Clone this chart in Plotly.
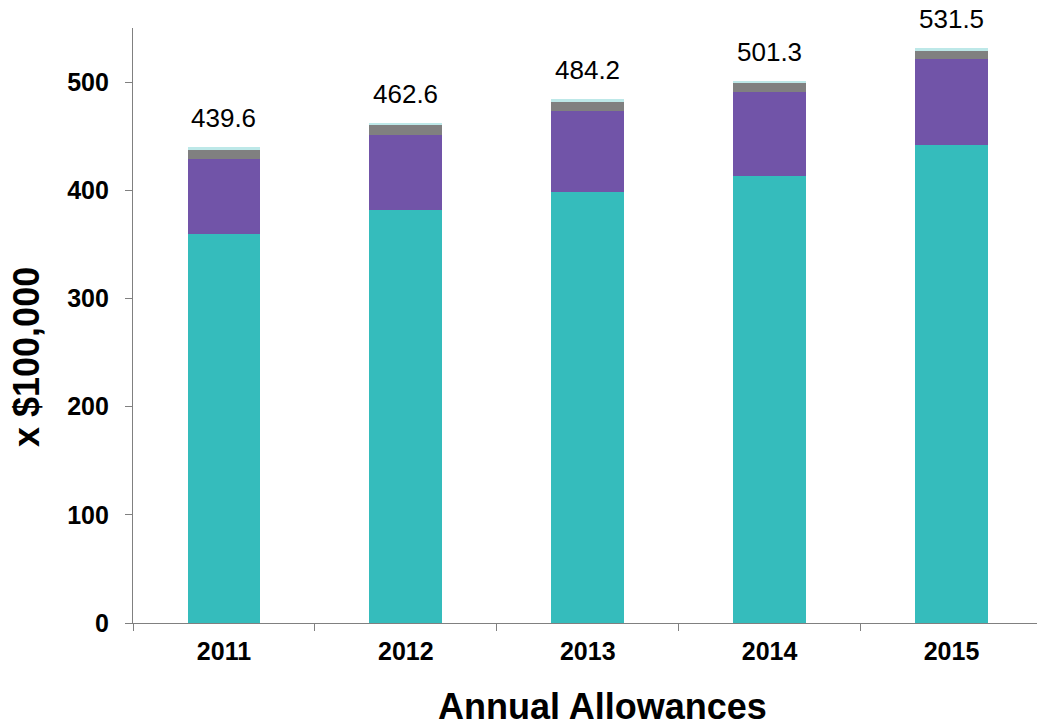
import plotly.graph_objects as go

years = ["2011", "2012", "2013", "2014", "2015"]
teal_vals = [359.8, 381.7, 398.3, 413.1, 441.8]
purple_vals = [68.8, 69.0, 74.6, 77.9, 79.2]
gray_vals = [9.5, 10.5, 8.9, 7.8, 8.0]
cyan_vals = [1.5, 1.4, 2.4, 2.5, 2.5]
totals = [439.6, 462.6, 484.2, 501.3, 531.5]
total_labels = ["439.6", "462.6", "484.2", "501.3", "531.5"]
y_ticks = [0, 100, 200, 300, 400, 500]

FONT = "Liberation Sans, Arial, sans-serif"

fig = go.Figure()
for vals, color in [(teal_vals, "#35BCBC"), (purple_vals, "#7154A8"),
                    (gray_vals, "#808080"), (cyan_vals, "#BDE8E8")]:
    fig.add_trace(go.Bar(x=years, y=vals, marker=dict(color=color, line=dict(width=0)),
                         width=0.4, showlegend=False, hoverinfo="skip"))

for i, (tot, lab) in enumerate(zip(totals, total_labels)):
    fig.add_annotation(x=i, y=tot, xref="x", yref="y", text=lab, showarrow=False,
                       yanchor="bottom", yshift=12,
                       font=dict(family=FONT, size=26, color="#000"))

# axis titles placed as annotations (offset from plot centre as in the reference)
fig.add_annotation(x=0.519, y=-0.141, xref="paper", yref="paper", text="<b>Annual Allowances</b>",
                   showarrow=False, xanchor="center", yanchor="middle",
                   font=dict(family=FONT, size=36, color="#000"))
fig.add_annotation(x=-0.1184, y=0.447, xref="paper", yref="paper", text="<b>x $100,000</b>",
                   showarrow=False, xanchor="center", yanchor="middle", textangle=-90,
                   font=dict(family=FONT, size=36, color="#000"))

fig.update_layout(
    barmode="stack",
    width=1037, height=727,
    margin=dict(l=133, r=0, t=28, b=104),
    plot_bgcolor="white", paper_bgcolor="white",
    font=dict(family=FONT, color="#000"),
    xaxis=dict(type="category", range=[-0.5, 4.47], showline=True, linecolor="#808080", linewidth=1.3,
               ticks="outside", tickson="boundaries", ticklen=7, tickcolor="#808080",
               tickvals=years, ticktext=[f"<b>{y}</b>" for y in years],
               tickfont=dict(size=25, family=FONT, color="#000"), ticklabelstandoff=6),
    yaxis=dict(range=[0, 550], showline=True, linecolor="#808080", linewidth=1.3,
               showgrid=False, zeroline=False, ticks="outside", ticklen=7, tickcolor="#808080",
               tickvals=y_ticks, ticktext=[f"<b>{v}</b>" for v in y_ticks],
               tickfont=dict(size=25, family=FONT, color="#000"), ticklabelstandoff=11),
)
fig.write_html("out.html")
